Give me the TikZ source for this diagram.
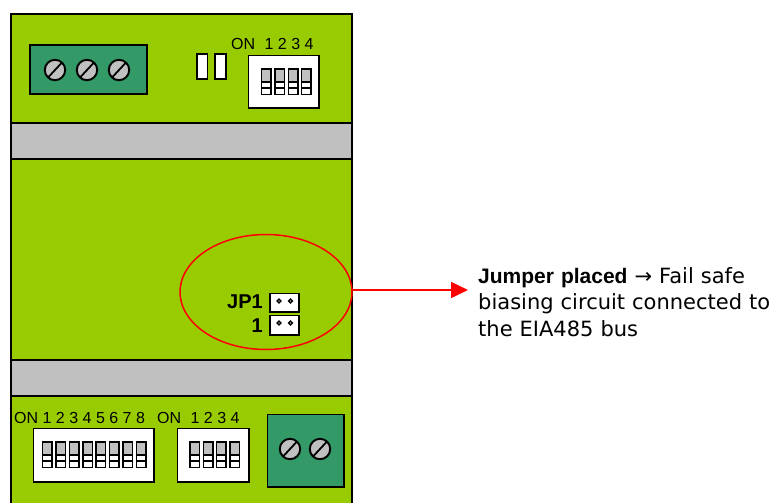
\documentclass[tikz,border=0pt]{standalone}
\usepackage{fontspec}
\setmainfont{Liberation Sans}
\newfontfamily\verd{DejaVu Sans}
\usetikzlibrary{shapes.geometric,arrows.meta}
\definecolor{board}{HTML}{99CC00}
\definecolor{term}{HTML}{339966}
\definecolor{metal}{HTML}{C0C0C0}
\tikzset{
  part/.style={draw=black,line width=1.9pt},
  screw/.style={part,fill=metal},
  dipcell/.style={draw=black,line width=1.5pt,fill=white},
  lab/.style={inner sep=0pt,anchor=base west,font=\fontsize{16}{16}\selectfont,text=black},
  pinhole/.style={draw=black,line width=1.4pt,fill=white},
  pics/dipswitch/.style={code={
    \fill[metal] (0,0) rectangle (9.5,13);
    \draw[dipcell] (0,13) rectangle (9.5,19);
    \draw[dipcell] (0,19) rectangle (9.5,25.5);
    \draw[draw=black,line width=1.5pt] (0,0) rectangle (9.5,25.5);
  }},
  pics/screwhead/.style={code={
    \draw[screw] (0,0) circle (10.2);
    \draw[black,line width=1.8pt] (-6.5,7) -- (6.5,-7);
  }}
}
\begin{document}
\begin{tikzpicture}[x=1pt,y=-1pt]
\path[use as bounding box] (0,0) rectangle (774,503);
\fill[white] (0,0) rectangle (774,503);
\clip (0,0) rectangle (774,503);
% board
\draw[part,fill=board] (11,14) rectangle (352,520);
\draw[part,fill=metal] (11,123) rectangle (352,159);
\draw[part,fill=metal] (11,360) rectangle (352,396);
% top terminal
\draw[part,fill=term] (30,45) rectangle (147,94);
\foreach \x in {55,87,119} \pic at (\x,70) {screwhead};
% small jumpers
\draw[part,fill=white] (197,54) rectangle (207.5,79);
\draw[part,fill=white] (215,54) rectangle (226,79);
% top DIP
\node[lab] (onA) at (231,50) {ON\hspace{5pt} 1 2 3 4};
\draw[part,fill=white] (248.5,55.5) rectangle (319,108);
\foreach \x in {261.7,275,288.3,301.7} \pic at (\x,69) {dipswitch};
% jumper JP1
\node[ellipse,draw=red,line width=1.5pt,minimum width=172pt,minimum height=115pt,inner sep=0pt,outer sep=0pt] (ell) at (266,292) {};
\node[inner sep=0pt,anchor=base east,font=\fontsize{20}{20}\selectfont\bfseries] (jplabel) at (263,308) {JP1};
\node[inner sep=0pt,anchor=base east,font=\fontsize{20}{20}\selectfont\bfseries] (onelabel) at (263,332) {1};
\draw[part,fill=white] (270,293.5) rectangle (299,312);
\draw[part,fill=white] (270,315.5) rectangle (299,335);
\foreach \x in {279,290.5}{
  \draw[pinhole] (\x,301) circle (1.9);
  \draw[pinhole] (\x,323) circle (1.9);
}
% callout
\coordinate (tip) at (468,290);
\draw[red,line width=1.5pt,-{Triangle[length=17pt,width=16pt]}] (ell.east |- tip) -- (tip);
\node[inner sep=0pt,anchor=north west,align=left,text width=300pt,font=\verd\fontsize{21}{26.7}\selectfont] (note) at (478,267)
  {{\setmainfont{Liberation Sans}\fontsize{21}{26.7}\selectfont\bfseries Jumper placed} → Fail safe\\biasing circuit connected to\\the EIA485 bus};
% bottom DIP 8
\node[lab] (onB) at (14,423) {ON 1 2 3 4 5 6 7 8};
\draw[part,fill=white] (33.5,428.5) rectangle (154,482);
\foreach \x in {42.7,56,69.4,82.8,96.2,109.6,123,136.7} \pic at (\x,442) {dipswitch};
% bottom DIP 4
\node[lab] (onC) at (157,423) {ON\hspace{5pt} 1 2 3 4};
\draw[part,fill=white] (177.5,428.5) rectangle (249,482);
\foreach \x in {190,203.3,216.6,230} \pic at (\x,442) {dipswitch};
% bottom terminal
\draw[part,fill=term] (267.5,414.5) rectangle (344,487);
\foreach \x in {290,320} \pic at (\x,449) {screwhead};
\end{tikzpicture}
\end{document}
